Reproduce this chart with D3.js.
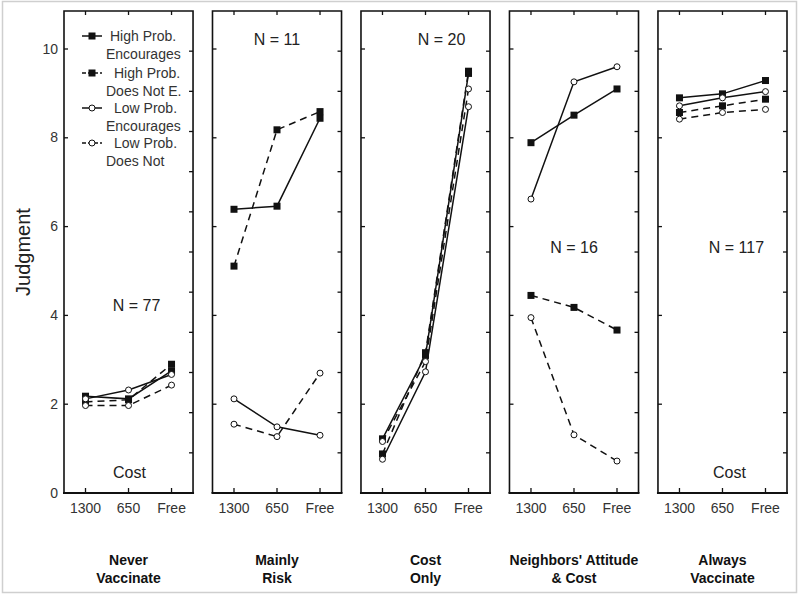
<!DOCTYPE html>
<html><head><meta charset="utf-8">
<script src="https://cdn.jsdelivr.net/npm/d3@7"></script>
<style>
body{margin:0;background:#fff;}
text{font-family:"Liberation Sans Narrow","Arial Narrow","Liberation Sans",Arial,sans-serif;}
</style></head>
<body><svg id="c" width="800" height="595"></svg>
<script>
const categories = ["1300", "650", "Free"];
const panelNames = ["Never Vaccinate", "Mainly Risk", "Cost Only", "Neighbors' Attitude & Cost", "Always Vaccinate"];
const panelLine1 = ["Never", "Mainly", "Cost", "Neighbors' Attitude", "Always"];
const panelLine2 = ["Vaccinate", "Risk", "Only", "& Cost", "Vaccinate"];
const nLabels = ["N = 77", "N = 11", "N = 20", "N = 16", "N = 117"];
const yTicks = [0, 2, 4, 6, 8, 10];

// values per panel, in the order of panelNames
const highProbEncourages   = [[2.18, 2.12, 2.75], [6.39, 6.46, 8.44], [1.22, 3.10, 9.45], [7.89, 8.51, 9.10], [8.90, 8.99, 9.29]];
const highProbDoesNotE     = [[2.05, 2.10, 2.90], [5.11, 8.18, 8.59], [0.88, 3.16, 9.50], [4.45, 4.18, 3.67], [8.57, 8.72, 8.87]];
const lowProbEncourages    = [[2.12, 2.32, 2.67], [2.12, 1.49, 1.30], [0.76, 2.73, 8.70], [6.62, 9.26, 9.60], [8.72, 8.90, 9.04]];
const lowProbDoesNot       = [[1.97, 1.97, 2.43], [1.55, 1.27, 2.70], [1.16, 2.96, 9.10], [3.95, 1.31, 0.72], [8.42, 8.57, 8.64]];

const seriesNames = ["High Prob.|Encourages", "High Prob.|Does Not E.", "Low Prob.|Encourages", "Low Prob.|Does Not"];
const seriesValues = [highProbEncourages, highProbDoesNotE, lowProbEncourages, lowProbDoesNot];
const seriesMarker = ["square", "square", "circle", "circle"];
const seriesDashed = [false, true, false, true];

// annotation placement (x px offset from panel center, y value)
const nLabelPos = [[8, 4.1], [0, 10.1], [16, 10.1], [0, 5.4], [14, 5.4]];

const svg = d3.select("#c");
const ink = "#111";
const txt = "#333";

svg.append("rect").attr("x", 2.5).attr("y", 1.5).attr("width", 794).attr("height", 591)
  .attr("fill", "none").attr("stroke", "#cfcfcf").attr("stroke-width", 1.5);

const yTop = 11, yBottom = 493;
const y = d3.scaleLinear().domain([0, 10]).range([yBottom, 49]);
const yRight = d3.scaleLinear().domain([0, 12]).range([yBottom, yTop]);
const panelX = d3.scaleBand().domain(panelNames).range([64, 787]).paddingInner(0.131);
const pw = panelX.bandwidth();
const x = d3.scalePoint().domain(categories).range([0, pw]).padding(0.5);

panelNames.forEach((pn, pi) => {
  const g = svg.append("g").attr("transform", `translate(${panelX(pn)},0)`);
  g.append("path").attr("d", `M0,${yBottom}V${yTop}H${pw}V${yBottom}`)
    .attr("fill", "none").attr("stroke", ink).attr("stroke-width", 1.6);
  g.append("line").attr("x1", -1).attr("x2", pw + 1).attr("y1", yBottom).attr("y2", yBottom)
    .attr("stroke", ink).attr("stroke-width", 2.2);

  g.selectAll(".lt").data(yTicks.filter(d => d > 0)).join("line")
    .attr("x1", 0).attr("x2", 4).attr("y1", d => y(d)).attr("y2", d => y(d))
    .attr("stroke", ink).attr("stroke-width", 1.3);
  g.selectAll(".rt").data(d3.range(1, 12)).join("line")
    .attr("x1", pw).attr("x2", pw - 4).attr("y1", d => yRight(d)).attr("y2", d => yRight(d))
    .attr("stroke", ink).attr("stroke-width", 1.3);
  g.selectAll(".tt").data(categories).join("line")
    .attr("x1", d => x(d)).attr("x2", d => x(d)).attr("y1", yTop).attr("y2", yTop + 4)
    .attr("stroke", ink).attr("stroke-width", 1.3);
  g.selectAll(".bt").data(categories).join("line")
    .attr("x1", d => x(d)).attr("x2", d => x(d)).attr("y1", yBottom).attr("y2", yBottom - 5)
    .attr("stroke", ink).attr("stroke-width", 1.3);
  g.selectAll(".cl").data(categories).join("text")
    .attr("x", d => x(d)).attr("y", 513).attr("text-anchor", "middle")
    .attr("font-size", 14).attr("fill", txt).text(d => d);
  g.append("text").attr("x", pw / 2).attr("y", 565).attr("text-anchor", "middle")
    .attr("font-size", 14).attr("font-weight", "bold").attr("fill", ink).text(panelLine1[pi]);
  g.append("text").attr("x", pw / 2).attr("y", 583).attr("text-anchor", "middle")
    .attr("font-size", 14).attr("font-weight", "bold").attr("fill", ink).text(panelLine2[pi]);

  g.append("text").attr("x", pw / 2 + nLabelPos[pi][0]).attr("y", y(nLabelPos[pi][1]))
    .attr("text-anchor", "middle").attr("font-size", 16).attr("fill", "#222")
    .style("font-family", "'Liberation Sans',Arial,sans-serif").text(nLabels[pi]);

  const line = d3.line().x((d, i) => x(categories[i])).y(d => y(d));
  seriesValues.forEach((sv, si) => {
    g.append("path").attr("d", line(sv[pi])).attr("fill", "none").attr("stroke", ink)
      .attr("stroke-width", 1.5).attr("stroke-dasharray", seriesDashed[si] ? "7,5" : null);
  });
  seriesValues.forEach((sv, si) => {
    const vals = sv[pi];
    if (seriesMarker[si] === "square") {
      g.selectAll(null).data(vals).join("rect")
        .attr("x", (d, i) => x(categories[i]) - 3.5).attr("y", d => y(d) - 3.5)
        .attr("width", 7).attr("height", 7).attr("fill", ink);
    } else {
      g.selectAll(null).data(vals).join("circle")
        .attr("cx", (d, i) => x(categories[i])).attr("cy", d => y(d)).attr("r", 3)
        .attr("fill", "#fff").attr("stroke", ink).attr("stroke-width", 1);
    }
  });

  if (pi === 0) {
    g.selectAll(".yl").data(yTicks).join("text")
      .attr("x", -6).attr("y", d => y(d) + 4.5).attr("text-anchor", "end")
      .attr("font-size", 14).attr("fill", txt).text(d => d);
  }
});

[0, 4].forEach(pi => {
  svg.append("text").attr("x", panelX(panelNames[pi]) + pw / 2 + (pi === 0 ? 1 : 7)).attr("y", y(0.33))
    .attr("text-anchor", "middle").attr("font-size", 16).attr("fill", "#222")
    .style("font-family", "'Liberation Sans',Arial,sans-serif").text("Cost");
});

svg.append("text").attr("transform", "translate(30,252) rotate(-90)").attr("text-anchor", "middle")
  .attr("font-size", 20).attr("fill", "#222").style("font-family", "'Liberation Sans',Arial,sans-serif")
  .text("Judgment");

const lg = svg.append("g");
const legY = [36, 73, 108, 143];
const legTextX = [110, 114, 114, 114];
seriesNames.forEach((name, si) => {
  const [a, b] = name.split("|");
  lg.append("line").attr("x1", 82).attr("x2", 102).attr("y1", legY[si]).attr("y2", legY[si])
    .attr("stroke", ink).attr("stroke-width", 1.5).attr("stroke-dasharray", seriesDashed[si] ? "4,2" : null);
  if (seriesMarker[si] === "square") {
    lg.append("rect").attr("x", 88.5).attr("y", legY[si] - 3.5).attr("width", 7).attr("height", 7).attr("fill", ink);
  } else {
    lg.append("circle").attr("cx", 92).attr("cy", legY[si]).attr("r", 3).attr("fill", "#fff").attr("stroke", ink);
  }
  lg.append("text").attr("x", legTextX[si]).attr("y", legY[si] + 5).attr("font-size", 14).attr("fill", txt).text(a);
  lg.append("text").attr("x", 106).attr("y", legY[si] + 23).attr("font-size", 14).attr("fill", txt).text(b);
});
</script></body></html>
